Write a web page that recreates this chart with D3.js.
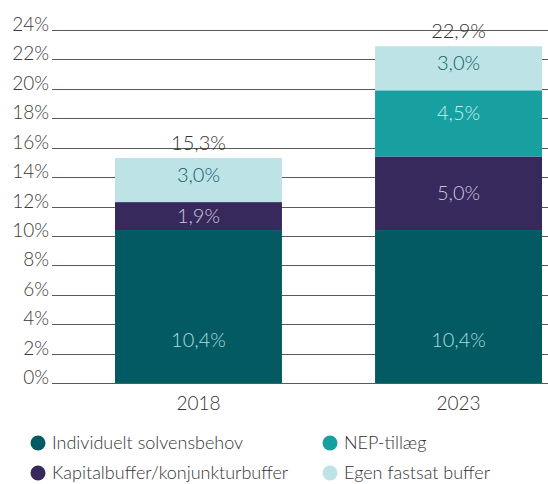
<!DOCTYPE html>
<html>
<head>
<meta charset="utf-8">
<script src="https://cdn.jsdelivr.net/npm/d3@7"></script>
<style>
  body { margin: 0; background: #fff; }
  svg text { font-family: Lato, "Open Sans", sans-serif; font-weight: 300; }
</style>
</head>
<body>
<div id="chart"></div>
<script>
// Stacked capital requirement bars, 2018 vs 2023
const years = ["2018", "2023"];
const seriesNames = ["Individuelt solvensbehov", "Kapitalbuffer/konjunkturbuffer", "NEP-tillæg", "Egen fastsat buffer"];
const individuelt = [10.4, 10.4];
const kapitalbuffer = [1.9, 5.0];
const nep = [0, 4.5];
const egen = [3.0, 3.0];
const totals = [15.3, 22.9];
const yTicks = [0, 2, 4, 6, 8, 10, 12, 14, 16, 18, 20, 22, 24];

const colors = ["#035a63", "#38295c", "#18a0a1", "#bde3e6"];
const labelColors = ["#a9dcdf", "#c9c6dc", "#c9eeee", "#0f5f68"];
const labelShift = [0, 0, -10, -5];
const fmt = v => d3.format(".1f")(v).replace(".", ",") + "%";

const W = 548, H = 484;
const svg = d3.select("#chart").append("svg")
  .attr("width", W).attr("height", H);

const y = d3.scaleLinear().domain([0, 24]).range([383, 30]);
const x = d3.scaleBand().domain(years).range([115, 542])
  .paddingInner(0.358).paddingOuter(0);

// gridlines
svg.append("g")
  .selectAll("line").data(yTicks).join("line")
  .attr("x1", 52).attr("x2", W)
  .attr("y1", d => Math.round(y(d)) + 0.5).attr("y2", d => Math.round(y(d)) + 0.5)
  .attr("stroke", "#5a5a5a").attr("stroke-width", 1);

svg.append("g")
  .selectAll("text").data(yTicks).join("text")
  .attr("x", 49).attr("y", d => y(d) + 1)
  .attr("text-anchor", "end")
  .attr("font-size", 19).attr("fill", "#3a3a3a")
  .text(d => d + "%");

// stack
const rows = years.map((yr, i) => ({
  year: yr, s0: individuelt[i], s1: kapitalbuffer[i], s2: nep[i], s3: egen[i]
}));
const stack = d3.stack().keys(["s0", "s1", "s2", "s3"])(rows);

const layers = svg.append("g").selectAll("g").data(stack).join("g")
  .attr("fill", (d, i) => colors[i]);

layers.selectAll("rect").data(d => d).join("rect")
  .attr("x", d => x(d.data.year))
  .attr("width", x.bandwidth())
  .attr("y", d => y(d[1]))
  .attr("height", d => y(d[0]) - y(d[1]));

// segment labels
stack.forEach((layer, li) => {
  layer.forEach(d => {
    const v = d[1] - d[0];
    if (v <= 0) return;
    let cy = (y(d[0]) + y(d[1])) / 2 + labelShift[li];
    if (li === 0) cy = y(d[0]) - 43;
    svg.append("text")
      .attr("x", x(d.data.year) + x.bandwidth() / 2)
      .attr("y", cy)
      .attr("dy", "0.35em")
      .attr("text-anchor", "middle")
      .attr("font-size", 20)
      .attr("fill", labelColors[li])
      .text(fmt(v));
  });
});

// totals
svg.append("g").selectAll("text").data(years).join("text")
  .attr("x", d => x(d) + x.bandwidth() / 2)
  .attr("y", (d, i) => y(totals[i]) - 8)
  .attr("text-anchor", "middle")
  .attr("font-size", 20).attr("fill", "#333")
  .text((d, i) => fmt(totals[i]));

// x labels
svg.append("g").selectAll("text").data(years).join("text")
  .attr("x", d => x(d) + x.bandwidth() / 2)
  .attr("y", 410)
  .attr("text-anchor", "middle")
  .attr("font-size", 19).attr("fill", "#333")
  .text(d => d);

// legend
const legendPos = [[38, 443], [38, 473], [330, 443], [330, 473]];
const lg = svg.append("g").selectAll("g").data(seriesNames).join("g")
  .attr("transform", (d, i) => `translate(${legendPos[i][0]},${legendPos[i][1]})`);
lg.append("circle").attr("r", 7.5).attr("fill", (d, i) => colors[i]);
lg.append("text").attr("x", 14).attr("dy", "0.35em")
  .attr("font-size", 18).attr("fill", "#333")
  .text(d => d);
</script>
</body>
</html>
